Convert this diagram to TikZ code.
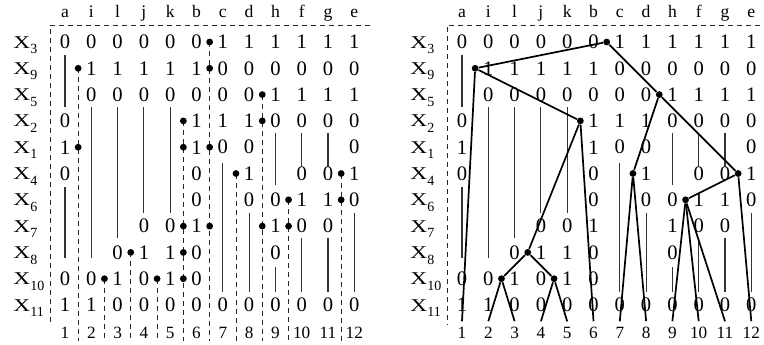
\documentclass[tikz,border=0pt]{standalone}
\usepackage{fontspec}
\setmainfont{Liberation Serif}
\usepackage{graphicx}

\begin{document}
\begin{tikzpicture}[x=0.5pt,y=-0.5pt]
\tikzstyle{entry}=[inner sep=0pt, font=\fontsize{10.3}{12}\selectfont]
\tikzstyle{colname}=[anchor=base, inner sep=0pt, font=\fontsize{8.8}{10}\selectfont]
\tikzstyle{leafnum}=[anchor=base, inner sep=2.5pt, font=\fontsize{8.6}{10}\selectfont]
\tikzstyle{rowname}=[anchor=base west, inner sep=0pt, font=\fontsize{9}{10}\selectfont]
\tikzstyle{frame}=[line width=0.45pt, black!85, dash pattern=on 2.5pt off 2pt]
\tikzstyle{stem}=[line width=0.55pt, black!80]
\tikzstyle{dot}=[circle, fill, minimum size=3.4pt, inner sep=0pt]
\tikzstyle{branch}=[line width=0.85pt]

\useasboundingbox (0,0) rectangle (764,344);

% both panels: the same matrix
\foreach \p/\dx/\xe in {L/0/370,R/397/760} {
\foreach \n [count=\c] in {a,i,l,j,k,b,c,d,h,f,g,e}
  \node[colname] (\p h\c) at ({\dx+65+26.3*(\c-1)},17) {\n};
\foreach \s [count=\r] in {3,9,5,2,1,4,6,7,8,10,11}
  \node[rowname] (\p x\r) at ({\dx+13},{48+26.3*(\r-1)}) {\scalebox{1.3}[1]{X}\raisebox{-2.8pt}{\fontsize{7}{8}\selectfont\s}};
\foreach \row [count=\r] in {{0,0,0,0,0,0,1,1,1,1,1,1},
    {x,1,1,1,1,1,0,0,0,0,0,0},
    {x,0,0,0,0,0,0,0,1,1,1,1},
    {0,x,x,x,x,1,1,1,0,0,0,0},
    {1,x,x,x,x,1,0,0,x,x,x,0},
    {0,x,x,x,x,0,x,1,x,0,0,1},
    {x,x,x,x,x,0,x,0,0,1,1,0},
    {x,x,x,0,0,1,x,x,1,0,0,x},
    {x,x,0,1,1,0,x,x,0,x,x,x},
    {0,0,1,0,1,0,x,x,x,x,x,x},
    {1,1,0,0,0,0,0,0,0,0,0,0}}
  \foreach \v [count=\c] in \row {
    \if x\v\else
    \node[entry] (\p-\r-\c) at ({\dx+65+26.3*(\c-1)},{42+26.3*(\r-1)}) {\v};
    \fi
  }
\foreach \c/\ya/\yb in {1/55/107,1/187/258,2/107/258,3/107/238,4/107/213,5/107/213,7/163/292,8/213/292,9/133/185,9/267/292,10/133/167,10/238/292,11/133/167,11/238/292,12/213/292}
  \draw[stem] ({\dx+65+26.3*(\c-1)},\ya) -- ({\dx+65+26.3*(\c-1)},\yb);
\draw[frame] (\xe,25) -- ({\dx+50},25) -- ({\dx+50},325);
\foreach \n in {1,...,12}
  \node[leafnum] (\p n\n) at ({\dx+65+26.3*(\n-1)},338) {\n};
}

% left: cuts
\foreach \k/\r in {1/2,2/10,3/9,4/10,5/4,6/1,7/6,8/3,9/7,11/6}
  \draw[frame] ({78.15+26.3*(\k-1)},{42+26.3*(\r-1)}) -- ({78.15+26.3*(\k-1)},341);
\foreach \k/\r in {1/2,1/5,2/10,3/9,4/10,5/4,5/5,5/8,5/9,5/10,6/1,6/2,6/5,6/8,7/6,8/3,8/4,8/8,9/7,9/8,11/6,11/7}
  \node[dot] (d\k-\r) at ({78.15+26.3*(\k-1)},{42+26.3*(\r-1)}) {};

% right: tree
\foreach \k/\r in {1/2,2/10,3/9,4/10,5/4,6/1,7/6,8/3,9/7,11/6}
  \node[dot] (s\k) at ({397+78.15+26.3*(\k-1)},{42+26.3*(\r-1)}) {};
\draw[branch] (Rn1.north) -- (s1) -- (s6) -- (s8) -- (s11) -- (Rn12.north);
\draw[branch] (s1) -- (s5) -- (Rn6.north);
\draw[branch] (s5) -- (s3) -- (s2) -- (Rn2.north);
\draw[branch] (s2) -- (Rn3.north);
\draw[branch] (s3) -- (s4) -- (Rn4.north);
\draw[branch] (s4) -- (Rn5.north);
\draw[branch] (s8) -- (s7) -- (Rn7.north);
\draw[branch] (s7) -- (Rn8.north);
\draw[branch] (s11) -- (s9) -- (Rn9.north);
\draw[branch] (s9) -- (Rn10.north);
\draw[branch] (s9) -- (Rn11.north);
\end{tikzpicture}
\end{document}
